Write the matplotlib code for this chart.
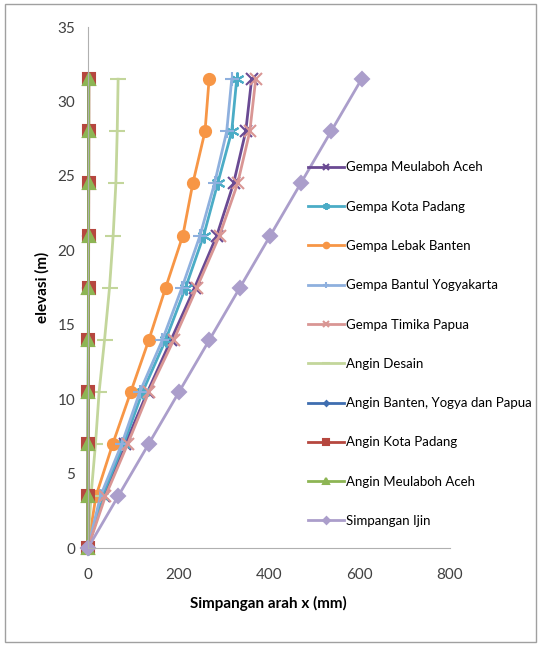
import matplotlib.pyplot as plt
import matplotlib.patches as patches

plt.rcParams['font.family'] = ['Lato', 'DejaVu Sans']

# elevasi lantai (m)
elevasi = [0, 3.5, 7, 10.5, 14, 17.5, 21, 24.5, 28, 31.5]

# simpangan arah x (mm)
gempa_meulaboh = [0, 35, 83, 132, 184, 236, 285, 322, 349, 362]
gempa_padang = [0, 32, 79, 121, 172, 216, 256, 287, 318, 329]
gempa_lebak = [0, 18, 55, 95, 135, 172, 210, 232, 259, 268]
gempa_bantul = [0, 28, 75, 115, 165, 208, 248, 280, 307, 318]
gempa_timika = [0, 39, 88, 135, 190, 241, 291, 331, 358, 371]
angin_desain = [0, 7, 17, 25, 37, 48, 56, 62, 65, 67]
angin_banten = [0, 0.3, 0.6, 0.9, 1.1, 1.3, 1.5, 1.6, 1.7, 1.8]
angin_padang = [0, 0.4, 0.8, 1.1, 1.4, 1.7, 1.9, 2.1, 2.2, 2.3]
angin_meulaboh = [0, 0.3, 0.7, 1.0, 1.3, 1.5, 1.7, 1.9, 2.0, 2.1]
simpangan_ijin = [0, 67.2, 134.4, 201.6, 268.8, 336.0, 403.2, 470.4, 537.6, 604.8]

series = [
    ('Gempa Meulaboh Aceh', gempa_meulaboh, '#6A4A93', 'x', 8),
    ('Gempa Kota Padang', gempa_padang, '#4BACC6', (6, 2, 0), 10),
    ('Gempa Lebak Banten', gempa_lebak, '#F79646', 'o', 8),
    ('Gempa Bantul Yogyakarta', gempa_bantul, '#8EB0DE', '+', 10),
    ('Gempa Timika Papua', gempa_timika, '#D99694', 'x', 8),
    ('Angin Desain', angin_desain, '#C3D69B', '_', 11),
    ('Angin Banten, Yogya dan Papua', angin_banten, '#3F6EB0', 'D', 5),
    ('Angin Kota Padang', angin_padang, '#B6473F', 's', 8),
    ('Angin Meulaboh Aceh', angin_meulaboh, '#8DB554', '^', 8),
    ('Simpangan Ijin', simpangan_ijin, '#AB9ECB', 'D', 7),
]

fig = plt.figure(figsize=(5.42, 6.45), dpi=100)
ax = fig.add_axes([0.162, 0.150, 0.668, 0.808])

for name, xs, col, mk, ms in series:
    ax.plot(xs, elevasi, color=col, linewidth=2.0, marker=mk, markersize=ms,
            markeredgewidth=1.5, label=name, clip_on=False)

ax.set_xlim(0, 800)
ax.set_ylim(0, 35)
ax.set_xticks([0, 200, 400, 600, 800])
ax.set_yticks(range(0, 36, 5))
ax.tick_params(axis='y', length=0, labelsize=11, labelcolor='#404040', pad=9)
ax.tick_params(axis='x', length=0, labelsize=11, labelcolor='#404040', pad=14)

for s in ['top', 'right']:
    ax.spines[s].set_visible(False)
for s in ['left', 'bottom']:
    ax.spines[s].set_color('#B0B0B0')

ax.set_xlabel('Simpangan arah x (mm)', fontsize=11, fontweight='bold', labelpad=10)
ax.set_ylabel('elevasi (m)', fontsize=11, fontweight='bold', labelpad=6)

leg = ax.legend(loc='upper left', bbox_to_anchor=(303 / 542, 1 - 156 / 645),
                bbox_transform=fig.transFigure, frameon=False, fontsize=9.5,
                labelspacing=2.07, handlelength=2.7, handletextpad=0.15,
                markerscale=0.5, borderaxespad=0)

fig.patches.append(patches.Rectangle((5 / 542, 3 / 645), 531 / 542, 638 / 645,
                                     transform=fig.transFigure, fill=False,
                                     edgecolor='#A0A0A0', linewidth=1))

fig.savefig('out.png', dpi=100)
